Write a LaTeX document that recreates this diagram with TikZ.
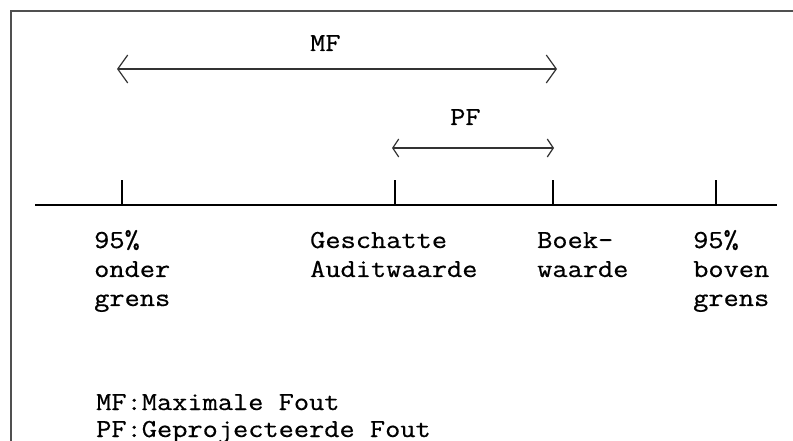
\documentclass[tikz,border=0pt]{standalone}
\usepackage{fontspec}
\setmonofont{Latin Modern Mono}[FakeStretch=1.14,FakeBold=0.6]
\usetikzlibrary{arrows.meta}
\definecolor{framegray}{HTML}{505050}
\tikzset{
  lbl/.style={anchor=base west, inner sep=0pt, font=\ttfamily\fontsize{26}{29}\selectfont, text=black},
  axisline/.style={line width=1.6bp, black},
  tickline/.style={line width=1.6bp, black},
  bigarrow/.style={line width=1.8bp, black!80, {Straight Barb[length=10bp,width=28bp,line width=1.2bp]}-{Straight Barb[length=10bp,width=28bp,line width=1.2bp]}},
  smallarrow/.style={line width=1.8bp, black!80, {Straight Barb[length=6bp,width=18bp,line width=1.2bp]}-{Straight Barb[length=6bp,width=18bp,line width=1.2bp]}},
  frameline/.style={line width=2.2bp, framegray}
}
\begin{document}
\begin{tikzpicture}[x=1bp,y=-1bp]
\useasboundingbox (0,0) rectangle (793,441);
\fill[white] (0,0) rectangle (793,441);
% frame
\coordinate (fbl) at (11,441);
\coordinate (ftl) at (11,11);
\coordinate (ftr) at (793,11);
\draw[frameline] (fbl) -- (ftl) -- (ftr);
% axis
\coordinate (axL) at (35,205);
\coordinate (axR) at (777,205);
\draw[axisline] (axL) -- (axR);
% ticks
\coordinate (t1) at (122,205); \coordinate (t1u) at (122,180);
\coordinate (t2) at (395,205); \coordinate (t2u) at (395,180);
\coordinate (t3) at (553,205); \coordinate (t3u) at (553,180);
\coordinate (t4) at (716,205); \coordinate (t4u) at (716,180);
\draw[tickline] (t1) -- (t1u);
\draw[tickline] (t2) -- (t2u);
\draw[tickline] (t3) -- (t3u);
\draw[tickline] (t4) -- (t4u);
% arrows
\coordinate (mfL) at (117,69);
\coordinate (mfR) at (557,69);
\draw[bigarrow] (mfL) -- (mfR);
\coordinate (pfL) at (392,148);
\coordinate (pfR) at (554,148);
\draw[smallarrow] (pfL) -- (pfR);
\node[lbl] (mflabel) at (310,51) {MF};
\node[lbl] (pflabel) at (450,125) {PF};
% tick labels
\node[lbl] (a1) at (94,248) {95\%};
\node[lbl] (a2) at (94,277) {onder};
\node[lbl] (a3) at (94,306) {grens};
\node[lbl] (b1) at (310,248) {Geschatte};
\node[lbl] (b2) at (310,277) {Auditwaarde};
\node[lbl] (c1) at (537,248) {Boek-};
\node[lbl] (c2) at (537,277) {waarde};
\node[lbl] (d1) at (693,248) {95\%};
\node[lbl] (d2) at (693,277) {boven};
\node[lbl] (d3) at (693,306) {grens};
% legend
\node[lbl] (leg1) at (96,410) {MF:Maximale Fout};
\node[lbl] (leg2) at (96,437) {PF:Geprojecteerde Fout};
\end{tikzpicture}
\end{document}
